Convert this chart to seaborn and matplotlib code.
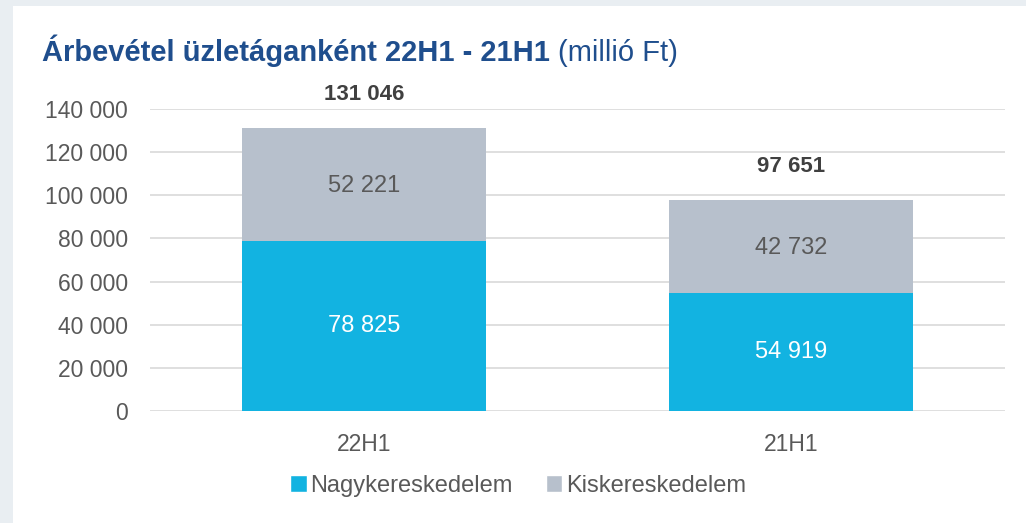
import matplotlib
matplotlib.use("Agg")
import matplotlib.pyplot as plt
from matplotlib.patches import Rectangle, Patch
import pandas as pd
import seaborn as sns

periods = ["22H1", "21H1"]
nagyker = [78825, 54919]
kisker = [52221, 42732]
totals = [131046, 97651]
yticks = [0, 20000, 40000, 60000, 80000, 100000, 120000, 140000]

blue = "#12b3e1"
grey = "#b7c0cc"
txt = "#595959"

sns.set_style("white")
plt.rcParams["font.family"] = ["Liberation Sans", "DejaVu Sans"]


def fmt(v):
    return f"{v:,}".replace(",", " ")


df = pd.DataFrame({"period": periods, "Nagykereskedelem": nagyker,
                   "Kiskereskedelem": kisker, "total": totals})

fig = plt.figure(figsize=(10.26, 5.23), dpi=100, facecolor="#e9eef2")
fig.patches.append(Rectangle((13 / 1026, 0), 1 - 13 / 1026, 1 - 6 / 523,
                             transform=fig.transFigure, facecolor="white",
                             edgecolor="none", zorder=-5))
ax = fig.add_axes([150 / 1026, 1 - 411 / 523, 855 / 1026, 302 / 523])
ax.set_facecolor("white")

sns.barplot(data=df, x="period", y="total", color=grey, width=0.57,
            saturation=1, linewidth=0, ax=ax, zorder=2)
sns.barplot(data=df, x="period", y="Nagykereskedelem", color=blue, width=0.57,
            saturation=1, linewidth=0, ax=ax, zorder=3)

for i in range(len(periods)):
    ax.text(i, nagyker[i] / 2, fmt(nagyker[i]), ha="center", va="center",
            color="white", fontsize=17)
    ax.text(i, nagyker[i] + kisker[i] / 2 - 800, fmt(kisker[i]), ha="center",
            va="center", color=txt, fontsize=17)
    ax.text(i, totals[i] + 15500, fmt(totals[i]), ha="center", va="center",
            color="#404040", fontsize=16, fontweight="bold")

ax.set_xlim(-0.5, 1.5)
ax.set_ylim(0, 140000)
ax.set_yticks(yticks)
ax.set_yticklabels([fmt(v) for v in yticks])
ax.yaxis.grid(True, color="#d9d9d9", linewidth=1.2, zorder=0)
ax.set_axisbelow(True)
for s in ax.spines.values():
    s.set_visible(False)
ax.tick_params(axis="both", length=0, labelsize=16.5, labelcolor=txt)
ax.tick_params(axis="y", pad=16)
ax.tick_params(axis="x", pad=16)
ax.set_xlabel("")
ax.set_ylabel("")

t1 = fig.text(42 / 1026, 1 - 61 / 523, "Árbevétel üzletáganként 22H1 - 21H1",
              fontsize=21, fontweight="bold", color="#1f4e8d")
fig.canvas.draw()
bb = t1.get_window_extent()
fig.text((bb.x1 + 8) / 1026, 1 - 61 / 523, "(millió Ft)", fontsize=21,
         color="#1f4e8d")

handles = [Patch(facecolor=blue, label="Nagykereskedelem"),
           Patch(facecolor=grey, label="Kiskereskedelem")]
leg = fig.legend(handles=handles, loc="center", ncol=2,
                 bbox_to_anchor=(518 / 1026, 1 - 486 / 523), frameon=False,
                 fontsize=17, handlelength=0.7, handleheight=0.7,
                 handletextpad=0.15, columnspacing=1.4)
for t in leg.get_texts():
    t.set_color(txt)

fig.savefig("out.png", dpi=100, facecolor=fig.get_facecolor())
